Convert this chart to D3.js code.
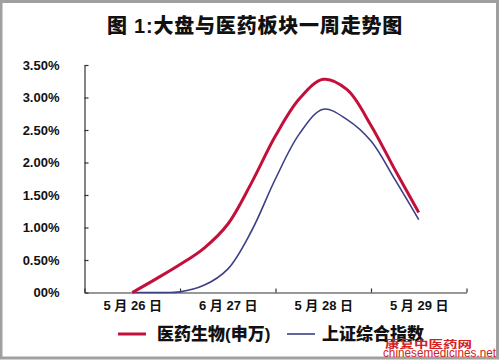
<!DOCTYPE html>
<html><head><meta charset="utf-8">
<script src="https://cdn.jsdelivr.net/npm/d3@7/dist/d3.min.js"></script>
<style>
html,body{margin:0;padding:0;background:#fff;}
svg{display:block;}
text{font-family:"Liberation Sans","Noto Sans CJK SC",Arial,sans-serif;}
</style></head>
<body>
<script>
const title = "图 1:大盘与医药板块一周走势图";
const dayLabels = ["5 月 26 日", "6 月 27 日", "5 月 28 日", "5 月 29 日"];
// values every quarter day (day index 0 .. 3)
const pointIndex = [0, 0.25, 0.5, 0.75, 1, 1.25, 1.5, 1.75, 2, 2.25, 2.5, 2.75, 3];
const pharma = [0, 0.21, 0.43, 0.68, 1.05, 1.69, 2.41, 2.98, 3.28, 3.12, 2.57, 1.89, 1.23];
const shIndex = [0, 0, 0.01, 0.11, 0.36, 0.95, 1.75, 2.44, 2.82, 2.66, 2.33, 1.74, 1.12];
const yTicks = [0, 0.5, 1, 1.5, 2, 2.5, 3, 3.5];
const yTickLabels = ["00%", "0.50%", "1.00%", "1.50%", "2.00%", "2.50%", "3.00%", "3.50%"];
const seriesNames = ["医药生物(申万)", "上证综合指数"];
const seriesColors = ["#c3103a", "#3d3f86"];
const xTickPositions = [-0.5, 0.5, 1.5, 2.5, 3.5];

const W = 499, H = 360;
const svg = d3.select("body").append("svg").attr("width", W).attr("height", H);

// frame
svg.append("rect").attr("x", 1).attr("y", 1.5).attr("width", W - 2.5).attr("height", H - 3.5)
  .attr("fill", "#fff").attr("stroke", "#a0a0a0").attr("stroke-width", 3);

svg.append("text").attr("x", 255).attr("y", 33).attr("text-anchor", "middle")
  .attr("font-family", "'Noto Sans CJK SC',sans-serif").attr("font-weight", 900)
  .attr("font-size", 20).attr("letter-spacing", 0.8).attr("fill", "#111").text(title);

const x = d3.scaleLinear().domain([-0.5, 3.5]).range([84.5, 466.5]);
const y = d3.scaleLinear().domain([0, 3.5]).range([292.5, 65]);

// y axis
const yAxis = svg.append("g").attr("transform", "translate(84.5,0)")
  .call(d3.axisLeft(y).tickValues(yTicks).tickSize(-4).tickSizeOuter(0).tickPadding(25)
    .tickFormat((d, i) => yTickLabels[i]));
yAxis.selectAll("text").attr("font-size", 13).attr("font-weight", "bold").attr("fill", "#111")
  .attr("font-family", "'Liberation Sans',Arial,sans-serif");
yAxis.selectAll("line, path").attr("stroke", "#333").attr("stroke-width", 1.2);

// x axis
const xAxis = svg.append("g").attr("transform", "translate(0,292.5)")
  .call(d3.axisBottom(x).tickValues(xTickPositions).tickSize(-4).tickSizeOuter(0).tickFormat(""));
xAxis.selectAll("line, path").attr("stroke", "#333").attr("stroke-width", 1.2);
const xLab = svg.append("g").attr("transform", "translate(0,292.5)")
  .call(d3.axisBottom(x).tickValues([0, 1, 2, 3]).tickSize(0).tickPadding(8)
    .tickFormat((d, i) => dayLabels[i]));
xLab.select("path").remove();
xLab.selectAll("text").attr("font-size", 13).attr("font-weight", "bold").attr("fill", "#111")
  .attr("font-family", "'Liberation Sans','Noto Sans CJK SC',sans-serif");

// lines
const line = d3.line().x((d, i) => x(pointIndex[i])).y(d => y(Math.max(d, 0)))
  .curve(d3.curveCatmullRom.alpha(0.5));
svg.append("path").datum(shIndex).attr("d", line).attr("fill", "none")
  .attr("stroke", seriesColors[1]).attr("stroke-width", 1.6);
svg.append("path").datum(pharma).attr("d", line).attr("fill", "none")
  .attr("stroke", seriesColors[0]).attr("stroke-width", 3);

// legend
const legend = [{x: 118, tx: 157}, {x: 287, tx: 322}];
legend.forEach((l, i) => {
  svg.append("line").attr("x1", l.x).attr("x2", l.x + 28).attr("y1", 334).attr("y2", 334)
    .attr("stroke", seriesColors[i]).attr("stroke-width", i === 0 ? 3 : 1.6);
  svg.append("text").attr("x", l.tx).attr("y", 340).attr("font-size", 17).attr("font-weight", 900)
    .attr("font-family", "'Noto Sans CJK SC',sans-serif").attr("fill", "#111").text(seriesNames[i]);
});

// watermark
svg.append("text").attr("x", 385).attr("y", 348).attr("font-size", 10)
  .attr("font-weight", "bold").attr("font-family", "'Noto Sans CJK SC',sans-serif").attr("fill", "#d42020")
  .attr("textLength", 87).attr("lengthAdjust", "spacingAndGlyphs").text("康复中医药网");
svg.append("text").attr("x", 383).attr("y", 357).attr("font-size", 12)
  .attr("font-family", "'DejaVu Sans',sans-serif").attr("fill", "#d42020").attr("textLength", 113)
  .attr("lengthAdjust", "spacingAndGlyphs").text("chinesemedicines.net");
</script>
</body></html>
